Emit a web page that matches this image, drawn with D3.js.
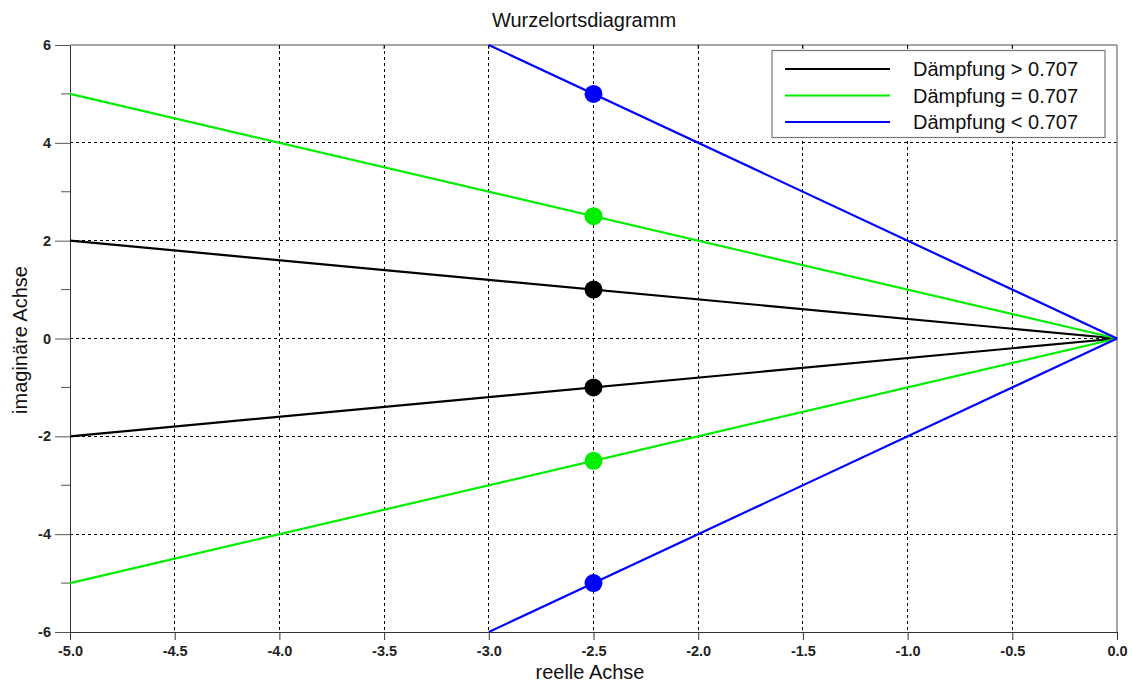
<!DOCTYPE html>
<html><head><meta charset="utf-8">
<script src="https://cdn.jsdelivr.net/npm/d3@7"></script>
<style>body{margin:0;background:#fff;}svg{display:block;font-family:Arial,"Liberation Sans",sans-serif;}</style>
</head><body>
<svg id="c" width="1132" height="683"></svg>
<script>
const seriesNames = ["Dämpfung > 0.707", "Dämpfung = 0.707", "Dämpfung < 0.707"];
const seriesColors = ["#000000", "#00ee00", "#0000ff"];
// branch lines: [x0, y0] -> origin
const upperLines = [[[-5, 2], [0, 0]], [[-5, 5], [0, 0]], [[-3, 6], [0, 0]]];
const lowerLines = [[[-5, -2], [0, 0]], [[-5, -5], [0, 0]], [[-3, -6], [0, 0]]];
const poleX = [-2.5, -2.5, -2.5];
const poleY = [1, 2.5, 5];
const xTicks = [-5.0, -4.5, -4.0, -3.5, -3.0, -2.5, -2.0, -1.5, -1.0, -0.5, 0.0];
const yTicks = [-6, -4, -2, 0, 2, 4, 6];
const yMinorTicks = [-5, -3, -1, 1, 3, 5];

const svg = d3.select("#c");
const L = 70, R = 1117, T = 45, B = 632;
const x = d3.scaleLinear().domain([-5, 0]).range([L, R]);
const y = d3.scaleLinear().domain([-6, 6]).range([B, T]);
const fmtX = d => d3.format(".1f")(d).replace("−", "-");
const fmtY = d => String(d);

// grid
const g = svg.append("g");
g.selectAll(".vg").data(xTicks.slice(1, -1)).enter().append("line")
  .attr("x1", d => x(d)).attr("x2", d => x(d)).attr("y1", T).attr("y2", B)
  .attr("stroke", "#000").attr("stroke-width", 1).attr("stroke-dasharray", "3,3").attr("shape-rendering", "crispEdges");
g.selectAll(".hg").data(yTicks.slice(1, -1)).enter().append("line")
  .attr("x1", L).attr("x2", R).attr("y1", d => y(d)).attr("y2", d => y(d))
  .attr("stroke", "#000").attr("stroke-width", 1).attr("stroke-dasharray", "3,3").attr("shape-rendering", "crispEdges");

// frame top/right gray
svg.append("line").attr("x1", L).attr("x2", R).attr("y1", T).attr("y2", T).attr("stroke", "#888").attr("stroke-width", 1.5);
svg.append("line").attr("x1", R).attr("x2", R).attr("y1", T).attr("y2", B).attr("stroke", "#888").attr("stroke-width", 1.5);
svg.selectAll(".tt").data(xTicks.slice(1, -1)).enter().append("line")
  .attr("x1", d => x(d)).attr("x2", d => x(d)).attr("y1", T).attr("y2", T + 4).attr("stroke", "#000");

// axes
const xAxis = d3.axisBottom(x).tickValues(xTicks).tickFormat(fmtX).tickSize(8).tickSizeOuter(0);
const xa = svg.append("g").attr("transform", `translate(0,${B})`).call(xAxis);
xa.select(".domain").attr("stroke", "#333");
xa.selectAll(".tick line").attr("stroke", "#333");
xa.selectAll("text").attr("font-size", 14.5).attr("font-weight", "bold").attr("fill", "#222").attr("y", 14).attr("dy", "0.71em").style("font-family", "Arial, 'Liberation Sans', sans-serif");
const yAxis = d3.axisLeft(y).tickValues(yTicks).tickFormat(fmtY).tickSize(15).tickSizeOuter(0);
const ya = svg.append("g").attr("transform", `translate(${L},0)`).call(yAxis);
ya.select(".domain").attr("stroke", "#333");
ya.selectAll(".tick line").attr("stroke", "#555");
ya.selectAll("text").attr("font-size", 14.5).attr("font-weight", "bold").attr("fill", "#222").attr("x", -19).style("font-family", "Arial, 'Liberation Sans', sans-serif");
ya.selectAll(".minor").data(yMinorTicks).enter().append("line").attr("class", "minor")
  .attr("x1", -9).attr("x2", 0).attr("y1", d => y(d)).attr("y2", d => y(d)).attr("stroke", "#555");

// lines
const lineGen = d3.line().x(d => x(d[0])).y(d => y(d[1]));
const mg = svg.append("g");
seriesColors.forEach((c, i) => {
  mg.append("path").attr("d", lineGen(upperLines[i])).attr("stroke", c).attr("stroke-width", 2.2).attr("fill", "none");
  mg.append("path").attr("d", lineGen(lowerLines[i])).attr("stroke", c).attr("stroke-width", 2.2).attr("fill", "none");
});
seriesColors.forEach((c, i) => {
  mg.append("circle").attr("cx", x(poleX[i])).attr("cy", y(poleY[i])).attr("r", 9).attr("fill", c);
  mg.append("circle").attr("cx", x(poleX[i])).attr("cy", y(-poleY[i])).attr("r", 9).attr("fill", c);
});

// legend
const lg = svg.append("g");
lg.append("rect").attr("x", 772).attr("y", 50.5).attr("width", 333).attr("height", 87).attr("fill", "#fff").attr("stroke", "#777").attr("stroke-width", 1.2);
seriesNames.forEach((n, i) => {
  const yy = 69 + i * 26.5;
  lg.append("line").attr("x1", 785).attr("x2", 890).attr("y1", yy).attr("y2", yy).attr("stroke", seriesColors[i]).attr("stroke-width", 2.2);
  lg.append("text").attr("x", 913).attr("y", yy + 7).attr("font-size", 20).attr("fill", "#111").text(n);
});

// titles
svg.append("text").attr("x", 584).attr("y", 27).attr("text-anchor", "middle").attr("font-size", 20).attr("fill", "#111").text("Wurzelortsdiagramm");
svg.append("text").attr("x", 590).attr("y", 679).attr("text-anchor", "middle").attr("font-size", 20).attr("fill", "#111").text("reelle Achse");
svg.append("text").attr("transform", "translate(27,340) rotate(-90)").attr("text-anchor", "middle").attr("font-size", 20).attr("fill", "#111").text("imaginäre Achse");
</script>
</body></html>
